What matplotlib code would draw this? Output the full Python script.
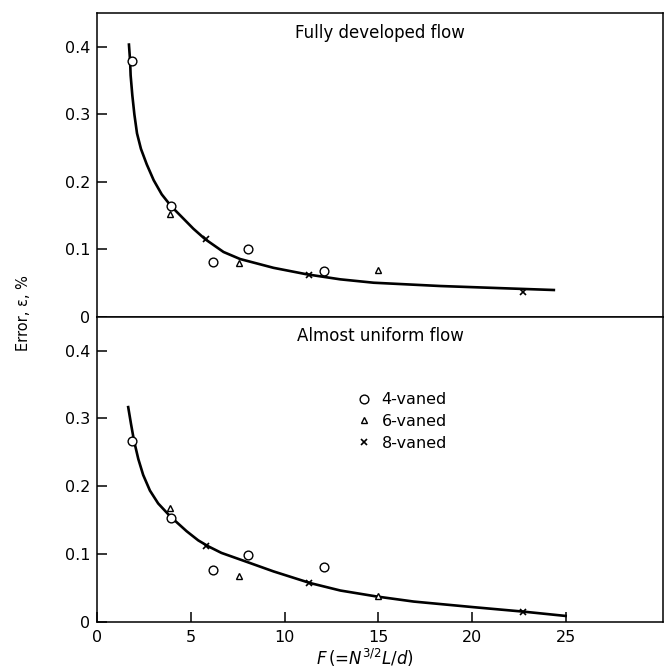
import numpy as np
import matplotlib
matplotlib.use("Agg")
import matplotlib.pyplot as plt
from matplotlib.lines import Line2D


# ============================================================
# Data
# ============================================================

# F values for each vane configuration
F_4vaned = [1.85, 3.95, 6.15, 8.05, 12.1]
F_6vaned = [3.85, 7.55, 15.0]
F_8vaned = [5.8, 11.3, 22.75]

# fully developed flow (top panel)
err_fd_4vaned = [0.379, 0.164, 0.081, 0.100, 0.068]
err_fd_6vaned = [0.152, 0.080, 0.070]
err_fd_8vaned = [0.115, 0.062, 0.037]

curve_fd_F = [1.68, 1.74, 1.77, 1.86, 1.97, 2.11, 2.32, 2.63, 3.00, 3.43,
              3.93, 4.50, 5.12, 5.75, 6.73, 7.62, 9.40, 11.19, 12.97, 14.75,
              18.32, 21.88, 24.37]
curve_fd_err = [0.4036, 0.380, 0.358, 0.3285, 0.300, 0.272, 0.249, 0.226, 0.2025, 0.1815,
                0.164, 0.148, 0.1305, 0.1150, 0.096, 0.0855, 0.0725, 0.0628, 0.0554, 0.0504,
                0.0455, 0.042, 0.0396]

# almost uniform flow (bottom panel)
err_au_4vaned = [0.267, 0.153, 0.077, 0.099, 0.080]
err_au_6vaned = [0.168, 0.068, 0.0386]
err_au_8vaned = [0.111, 0.057, 0.015]

curve_au_F = [1.64, 1.79, 1.95, 2.18, 2.44, 2.80, 3.24, 3.78, 4.22, 4.76,
              5.38, 5.91, 6.62, 8.0, 9.40, 11.36, 12.97, 14.93, 16.89, 20.10,
              22.77, 25.0]
curve_au_err = [0.3166, 0.2918, 0.267, 0.240, 0.2165, 0.1935, 0.1745, 0.1585, 0.147, 0.1335,
                0.120, 0.1113, 0.1015, 0.088, 0.0742, 0.057, 0.046, 0.0371, 0.0297, 0.0214,
                0.0148, 0.0085]

x_ticks = [0, 5, 10, 15, 20, 25]
y_ticks = [0, 0.1, 0.2, 0.3, 0.4]
y_ticklabels = ["0", "0.1", "0.2", "0.3", "0.4"]


# ============================================================
# Style
# ============================================================

plt.rcParams.update({
    "font.family": "DejaVu Sans",
    "font.size": 11.5,
    "axes.linewidth": 1.1,
    "xtick.direction": "in",
    "ytick.direction": "in",
    "xtick.major.size": 7.5,
    "ytick.major.size": 7.5,
    "xtick.major.width": 1.1,
    "ytick.major.width": 1.1,
    "mathtext.fontset": "dejavusans",
})

fig = plt.figure(figsize=(6.65, 6.69), dpi=100)
fig.patch.set_facecolor("white")

left, width = 0.1466, 0.8504
ax_top = fig.add_axes([left, 0.5266, width, 0.4535])
ax_bot = fig.add_axes([left, 0.0707, width, 0.4559])

marker_kw = dict(linestyle="none", color="black", markerfacecolor="white",
                 zorder=3)


def draw_panel(ax, curve_x, curve_y, e4, e6, e8):
    ax.plot(curve_x, curve_y, color="black", linewidth=1.9, zorder=2,
            solid_joinstyle="round")
    ax.plot(F_4vaned, e4, marker="o", markersize=6.3, markeredgewidth=1.0, **marker_kw)
    ax.plot(F_6vaned, e6, marker="^", markersize=5, markeredgewidth=1.0, **marker_kw)
    ax.plot(F_8vaned, e8, marker="x", markersize=5, markeredgewidth=1.2,
            linestyle="none", color="black", zorder=3)
    ax.set_xlim(0, 30.2)
    ax.set_ylim(0, 0.45)
    ax.set_yticks(y_ticks)
    ax.set_yticklabels(y_ticklabels)
    ax.tick_params(axis="y", pad=5)


# ============================================================
# Top panel: fully developed flow
# ============================================================

draw_panel(ax_top, curve_fd_F, curve_fd_err,
           err_fd_4vaned, err_fd_6vaned, err_fd_8vaned)
ax_top.tick_params(axis="x", bottom=False, labelbottom=False)
ax_top.text(0.5, 0.965, "Fully developed flow", transform=ax_top.transAxes,
            ha="center", va="top", fontsize=12)


# ============================================================
# Bottom panel: almost uniform flow
# ============================================================

draw_panel(ax_bot, curve_au_F, curve_au_err,
           err_au_4vaned, err_au_6vaned, err_au_8vaned)
ax_bot.set_xticks(x_ticks)
ax_bot.tick_params(axis="x", pad=6)
ax_bot.text(0.5, 0.965, "Almost uniform flow", transform=ax_bot.transAxes,
            ha="center", va="top", fontsize=12)

ax_bot.set_xlabel(r"$F\,$(=$N^{3/2}L/d$)", fontsize=12, labelpad=2)
ax_bot.xaxis.set_label_coords(0.473, -0.082, transform=ax_bot.transAxes)
ax_bot.xaxis.label.set_va("top")

handles = [
    Line2D([], [], marker="o", markersize=6.3, markeredgewidth=1.0, **marker_kw),
    Line2D([], [], marker="^", markersize=5, markeredgewidth=1.0, **marker_kw),
    Line2D([], [], marker="x", markersize=5, markeredgewidth=1.2,
           linestyle="none", color="black"),
]
ax_bot.legend(handles, ["4-vaned", "6-vaned", "8-vaned"],
              loc="upper left", bbox_to_anchor=(0.457, 0.752),
              frameon=False, handlelength=1.0, handletextpad=0.6,
              labelspacing=0.42, borderpad=0, borderaxespad=0, fontsize=11.5)

fig.text(0.036, 0.532, "Error, \u03b5, %", rotation=90,
         ha="center", va="center", fontsize=10.5)

fig.savefig("out.png", dpi=100, facecolor="white")
plt.close(fig)
